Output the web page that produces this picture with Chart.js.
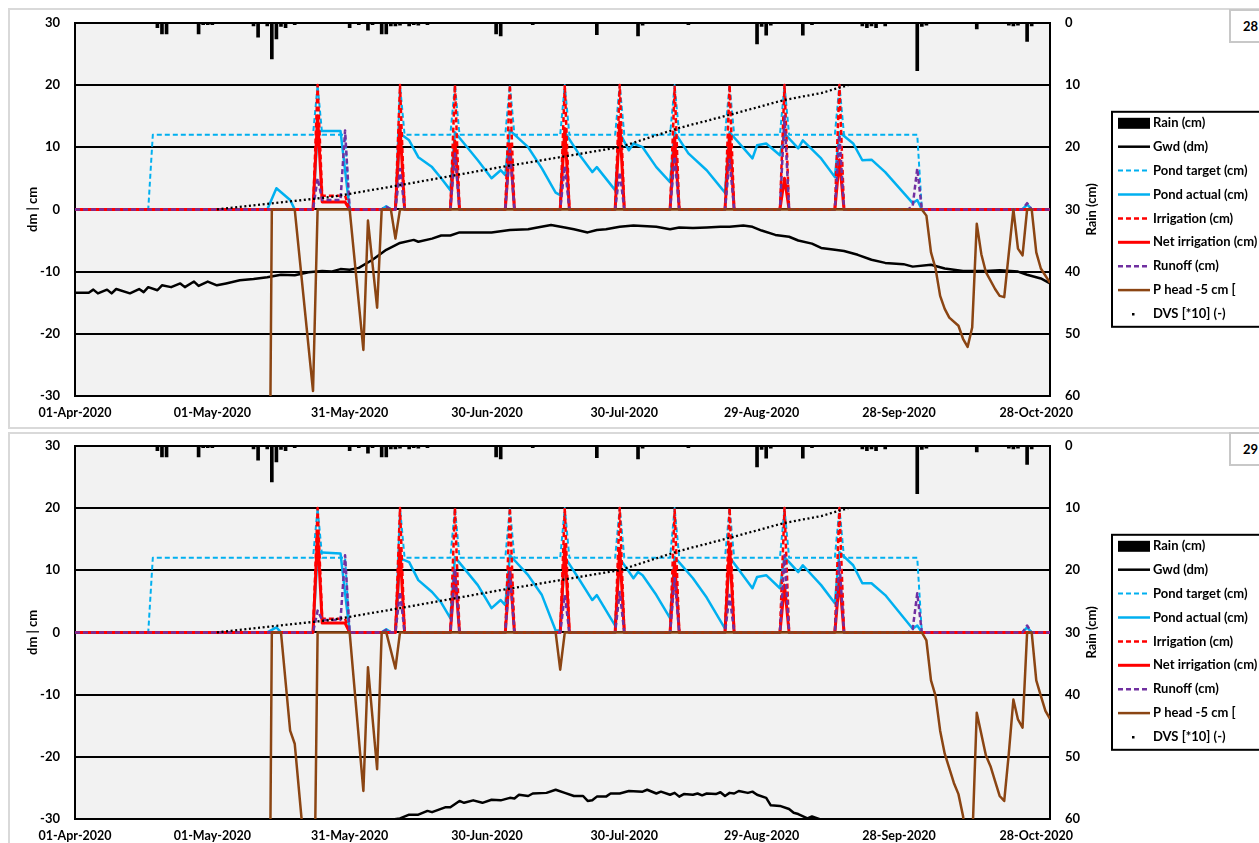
<!DOCTYPE html>
<html>
<head>
<meta charset="utf-8">
<script src="https://cdn.jsdelivr.net/npm/chart.js@4.4.1/dist/chart.umd.min.js"></script>
<style>
  body { margin: 0; width: 1259px; height: 843px; overflow: hidden; background: #fff; position: relative; font-family: Lato, sans-serif; }
  .frame { position: absolute; left: 8px; width: 1270px; border: 2px solid #d9d9d9; box-sizing: border-box; }
  #frame1 { top: 8px; height: 421px; }
  #frame2 { top: 432px; height: 430px; }
  canvas { position: absolute; left: 0; }
  #c28 { top: 0; }
  #c29 { top: 423px; }
  .tag { position: absolute; left: 1229px; width: 45px; height: 34px; border: 2px solid #c8c8c8; box-sizing: border-box; background: #fff; font-weight: bold; font-size: 13px; padding: 7px 0 0 12px; }
</style>
</head>
<body>
<div class="frame" id="frame1"></div>
<div class="frame" id="frame2"></div>
<canvas id="c28" width="1259" height="428"></canvas>
<canvas id="c29" width="1259" height="428"></canvas>
<div class="tag" style="top:9px">28</div>
<div class="tag" style="top:432px">29</div>
<script>
// x axis = days since 01-Apr-2020
const tickDays = [0, 30, 60, 90, 120, 150, 180, 210]
const tickLabels = ['01-Apr-2020', '01-May-2020', '31-May-2020', '30-Jun-2020', '30-Jul-2020', '29-Aug-2020', '28-Sep-2020', '28-Oct-2020']

// shared by both runs
const rainDays = [18,19,20,27,28,29,30,39,40,42,43,44,45,46,48,60,62,64,65,67,68,69,70,71,73,74,75,77,92,93,100,114,123,124,134,149,150,151,152,159,161,172,173,174,175,177,184,185,186,197,204,205,206,208,209]
const rainCm = [0.8,1.8,1.8,1.8,0.3,0.3,0.3,0.5,2.3,0.5,5.8,2.6,0.6,0.8,0.3,0.8,0.3,1.2,0.3,1.8,1.8,0.5,0.5,0.4,0.5,0.3,0.4,0.3,1.8,2.1,0.3,1.9,2.1,0.4,0.3,3.4,0.6,2.0,0.4,2.0,0.3,0.5,0.8,0.5,0.8,0.5,7.7,0.6,0.4,1.0,0.4,0.5,0.4,3.0,0.5]

const dvs = [[31,0],[56,2],[71,3.9],[93,6.8],[119,10],[132,13.1],[143,15.2],[155,17.6],[163,18.7],[169,20]]

const pondTarget = [[0,0],[16,0],[17,12],[52,12],[53,20],[54,12],[59,12],[60,0],[70,0],[71,20],[72,12],[82,12],[83,20],[84,12],[94,12],[95,20],[96,12],[106,12],[107,20],[108,12],[118,12],[119,20],[120,12],[130,12],[131,20],[132,12],[142,12],[143,20],[144,12],[154,12],[155,20],[156,12],[166,12],[167,20],[168,12],[184,12],[185,0],[213,0]]

const irrigation = [[0,0],[52,0],[53,20],[54,2.2],[59,2.2],[60,0],[70,0],[71,20],[72,0],[82,0],[83,20],[84,0],[94,0],[95,20],[96,0],[106,0],[107,20],[108,0],[118,0],[119,20],[120,0],[130,0],[131,19.7],[132,0],[142,0],[143,20],[144,0],[154,0],[155,20],[156,0],[166,0],[167,20],[168,0],[213,0]]

// run 28
const gwd28 = [[0,-13.4],[3,-13.4],[4,-12.9],[5,-13.5],[7,-12.9],[8,-13.5],[9,-12.8],[12,-13.5],[14,-12.8],[15,-13.3],[16,-12.5],[18,-13],[19,-12.2],[21,-12.5],[23,-11.9],[24,-12.5],[26,-11.6],[27,-12.3],[29,-11.6],[31,-12.2],[33,-11.9],[36,-11.4],[39,-11.2],[42,-10.9],[45,-10.5],[48,-10.6],[51,-10.1],[54,-9.9],[56,-10],[58,-9.6],[60,-9.7],[62,-9.4],[65,-8.1],[68,-6.5],[71,-5.4],[74,-4.9],[75,-5.2],[78,-4.7],[80,-4.2],[82,-4.2],[84,-3.7],[88,-3.7],[91,-3.7],[95,-3.3],[99,-3.2],[101,-2.9],[104,-2.5],[107,-2.9],[109,-3.2],[112,-3.7],[114,-3.3],[116,-3.2],[119,-2.8],[122,-2.6],[127,-2.8],[130,-3.2],[132,-2.9],[135,-3],[138,-2.9],[141,-2.8],[143,-2.8],[146,-2.6],[148,-2.8],[150,-3.4],[153,-4.1],[156,-4.4],[158,-5],[161,-5.5],[163,-6.2],[166,-6.5],[168,-6.7],[171,-7.3],[174,-8.1],[177,-8.6],[181,-8.8],[183,-9.2],[187,-8.9],[190,-9.5],[194,-9.9],[199,-9.9],[202,-9.8],[206,-10],[208,-10.5],[211,-11.1],[213,-11.9]]
const pondActual28 = [[0,0],[42,0],[44,3.4],[47,1.5],[48,0],[52,0],[53,12.6],[58,12.6],[60,0],[67,0],[68,0.5],[69,0],[70,0],[71,12.2],[73,11.1],[75,8.4],[78,6.8],[80,5],[82,3.1],[83,12.4],[88,7.9],[91,5],[93,6.3],[94,5.5],[95,12.7],[99,10],[102,6.6],[105,2.7],[106,2.3],[107,12.4],[110,9],[113,6],[114,6.8],[118,3.1],[119,12.3],[121,9.5],[122,10.6],[124,10],[127,6.8],[130,4.4],[131,12.4],[134,9],[138,6.3],[142,2.7],[143,12.4],[148,8.2],[149,10.3],[151,10.6],[154,8.7],[155,12.2],[158,9.8],[159,11.1],[163,8.2],[166,5.2],[167,12.4],[170,10.6],[172,7.9],[174,8],[177,6],[183,1],[184,1.5],[185,0],[207,0],[208,0.8],[209,0],[213,0]]
const netIrrigation28 = [[0,0],[52,0],[53,15],[54,1.2],[59,1.2],[60,0],[70,0],[71,13.5],[72,0],[82,0],[83,11],[84,0],[94,0],[95,10.5],[96,0],[106,0],[107,13],[108,0],[118,0],[119,14],[120,0],[130,0],[131,11.5],[132,0],[142,0],[143,12],[144,0],[154,0],[155,5],[156,0],[166,0],[167,8],[168,0],[213,0]]
const runoff28 = [[0,0],[52,0],[53,5],[54,1.5],[58,1.5],[59,12.7],[60,0],[67,0],[68,0.4],[69,0],[70,0],[71,6.5],[72,0],[82,0],[83,9],[84,0],[94,0],[95,9.5],[96,0],[106,0],[107,7],[108,0],[118,0],[119,6],[120,0],[130,0],[131,8.5],[132,0],[142,0],[143,8],[144,0],[154,0],[155,15],[156,0],[166,0],[167,12],[168,0],[182,0],[183,0.5],[184,6.6],[185,0],[207,0],[208,1],[209,0],[213,0]]
const pHead28 = [[42,-100],[43,0],[48,0],[52,-29.2],[53,0],[60,0],[63,-22.6],[64,-1.8],[66,-15.8],[67,0],[69,0],[70,-4.7],[71,0],[185,0],[186,-1],[187,-6.9],[188,-9.5],[189,-13.9],[190,-16],[191,-17.4],[193,-18.7],[194,-20.8],[195,-22.1],[196,-19],[197,-2.3],[198,-7.2],[199,-10.1],[201,-12.8],[202,-13.9],[203,-14.1],[205,0],[206,-6.3],[207,-7.4],[208,0],[209,0],[210,-6.9],[211,-9.5],[213,-11.8]]

// run 29
const gwd29 = [[0,-36],[40,-33],[66,-30.5],[69,-30.1],[71,-29.9],[73,-29.3],[75,-29.3],[77,-28.7],[78,-28.9],[81,-28.1],[82,-28.1],[84,-27.1],[85,-27.4],[87,-27],[89,-27.4],[91,-26.9],[93,-27],[95,-26.6],[96,-26.7],[97,-26.1],[99,-26.3],[100,-25.9],[103,-25.8],[105,-25.3],[107,-25.8],[109,-26.3],[111,-26.3],[112,-27.1],[113,-27],[114,-26.4],[116,-26.4],[117,-25.9],[119,-25.9],[121,-25.5],[124,-25.6],[125,-25.3],[127,-25.9],[128,-25.6],[130,-26.1],[131,-25.8],[132,-26.4],[133,-26],[135,-26.1],[136,-25.9],[137,-26.2],[138,-25.9],[140,-26],[141,-25.7],[142,-26.3],[143,-25.8],[144,-25.9],[145,-25.5],[147,-25.8],[148,-25.6],[149,-26.1],[151,-26.6],[152,-27.8],[154,-27.9],[156,-28.4],[157,-29],[158,-29.2],[160,-29.9],[161,-29.6],[163,-30.1],[170,-31.5],[213,-36]]
const pondActual29 = [[0,0],[42,0],[44,0.8],[45,0],[52,0],[53,12.9],[58,12.7],[60,0],[67,0],[68,0.5],[69,0],[70,0],[71,11.9],[73,11.3],[75,8.4],[78,6.5],[80,4.8],[82,2.3],[83,12.1],[88,7.6],[91,3.9],[93,5.2],[94,4.4],[95,12.4],[99,9.2],[102,6],[105,0.3],[106,0.3],[107,12.1],[110,8.7],[113,5.2],[114,6],[118,1.1],[119,11.9],[122,8.7],[123,9.7],[124,9.2],[127,6],[130,2.3],[131,12.1],[135,8.7],[138,5.6],[142,0.6],[143,12.1],[148,7.1],[149,8.9],[151,9.2],[154,7.1],[155,12.1],[158,9.7],[159,10.8],[163,7.6],[166,4.7],[167,12.9],[170,10.8],[172,7.9],[174,7.9],[177,6],[183,0.6],[184,1.1],[185,0],[207,0],[208,0.8],[209,0],[213,0]]
const netIrrigation29 = [[0,0],[52,0],[53,16],[54,1.5],[59,1.5],[60,0],[70,0],[71,13.5],[72,0],[82,0],[83,9.7],[84,0],[94,0],[95,10.3],[96,0],[106,0],[107,14],[108,0],[118,0],[119,13.5],[120,0],[130,0],[131,11.3],[132,0],[142,0],[143,14],[144,0],[154,0],[155,7.6],[156,0],[166,0],[167,8.7],[168,0],[213,0]]
const runoff29 = [[0,0],[52,0],[53,3.5],[54,2],[58,2],[59,12.4],[60,0],[67,0],[68,0.4],[69,0],[70,0],[71,6.5],[72,0],[82,0],[83,10.3],[84,0],[94,0],[95,9.7],[96,0],[106,0],[107,6],[108,0],[118,0],[119,6.5],[120,0],[130,0],[131,8.7],[132,0],[142,0],[143,6],[144,0],[154,0],[155,12.4],[156,0],[166,0],[167,11.3],[168,0],[182,0],[183,0.5],[184,6.3],[185,0],[207,0],[208,1.1],[209,0],[213,0]]
const pHead29 = [[42,-100],[43,0],[45,0],[47,-15.8],[48,-17.9],[50,-34],[52,-60],[53,0],[60,0],[63,-25.5],[64,-5.6],[66,-22],[67,0],[68,0],[70,-5.8],[71,0],[105,0],[106,-6],[107,0],[185,0],[186,-1.3],[187,-7.7],[188,-10.2],[189,-15.8],[190,-19.5],[192,-24.2],[193,-26],[194,-29.5],[195,-36],[196,-34],[197,-12.9],[199,-19.8],[200,-21.5],[201,-23.9],[202,-26.3],[203,-27.1],[204,-19.5],[205,-10.8],[206,-14],[207,-15.3],[208,0],[209,0],[210,-7.7],[211,-10.2],[212,-12.6],[213,-13.9]]


Chart.defaults.font.family = 'Lato'
Chart.defaults.font.size = 13
Chart.defaults.font.weight = 'bold'
Chart.defaults.color = '#000'

const plotBg = {
    id: 'plotBg',
    beforeDraw(chart) {
        const {ctx, chartArea} = chart
        ctx.save()
        ctx.fillStyle = '#f2f2f2'
        ctx.fillRect(chartArea.left, chartArea.top, chartArea.width, chartArea.height)
        ctx.restore()
    }
}

// boxed legend on the right + the "Rain (cm)" axis title (reads bottom to top)
const legendBox = {
    id: 'legendBox',
    afterDraw(chart) {
        const {ctx, chartArea} = chart
        const top = chartArea.top + 89
        ctx.save()
        ctx.fillStyle = '#fff'
        ctx.fillRect(1112, top, 160, 215)
        ctx.lineWidth = 2
        ctx.strokeStyle = '#000'
        ctx.strokeRect(1112, top, 160, 215)
        ctx.font = 'bold 13px Lato'
        ctx.textBaseline = 'middle'
        chart.data.datasets.forEach((ds, i) => {
            const y = top + 11 + i * 23.9
            if (ds.type === 'bar') {
                ctx.fillStyle = '#000'
                ctx.fillRect(1118, y - 5, 32, 11)
            } else if (ds.legendDot) {
                ctx.fillStyle = '#000'
                ctx.fillRect(1132, y - 1, 2.5, 2.5)
            } else {
                ctx.beginPath()
                ctx.setLineDash(ds.borderDash || [])
                ctx.strokeStyle = ds.borderColor
                ctx.lineWidth = ds.borderWidth
                ctx.moveTo(1118, y)
                ctx.lineTo(1150, y)
                ctx.stroke()
                ctx.setLineDash([])
            }
            ctx.fillStyle = '#000'
            ctx.fillText(ds.label, 1153, y)
        })
        ctx.translate(1092, (chartArea.top + chartArea.bottom) / 2)
        ctx.rotate(-Math.PI / 2)
        ctx.textAlign = 'center'
        ctx.fillText('Rain (cm)', 0, 0)
        ctx.restore()
    }
}

function makeChart(id, gwd, pondActual, netIrrigation, runoff, pHead) {
    const ctx = document.getElementById(id).getContext('2d')

    const datasets = [
        { type: 'bar', label: 'Rain (cm)', data: rainDays.map((d, i) => ({x: d, y: rainCm[i]})),
          yAxisID: 'y2', backgroundColor: '#000', barThickness: 3, order: 9 },
        { label: 'Gwd (dm)', data: gwd, borderColor: '#000', borderWidth: 2.5, order: 8 },
        { label: 'Pond target (cm)', data: pondTarget, borderColor: '#00b0f0', borderWidth: 2, borderDash: [5, 3], order: 7 },
        { label: 'Pond actual (cm)', data: pondActual, borderColor: '#00b0f0', borderWidth: 2.5, order: 6 },
        { label: 'Irrigation (cm)', data: irrigation, borderColor: '#ff0000', borderWidth: 2.5, borderDash: [5, 3], order: 5 },
        { label: 'Net irrigation (cm)', data: netIrrigation, borderColor: '#ff0000', borderWidth: 3, order: 4 },
        { label: 'Runoff (cm)', data: runoff, borderColor: '#7030a0', borderWidth: 2.5, borderDash: [5, 3], order: 3 },
        { label: 'P head -5 cm [', data: pHead, borderColor: '#8b4513', borderWidth: 2.5, order: 2 },
        { label: 'DVS [*10] (-)', data: dvs, borderColor: '#000', borderWidth: 2.3, borderDash: [2, 2.6], legendDot: true, order: 1 }
    ]

    const config = {
        type: 'line',
        data: { datasets: datasets },
        options: {
            responsive: false,
            animation: false,
            devicePixelRatio: 1,
            layout: { padding: { top: 22, right: 159, bottom: 0, left: 0 } },
            plugins: { legend: { display: false }, tooltip: { enabled: false } },
            elements: { point: { radius: 0 }, line: { tension: 0, borderJoinStyle: 'round' } },
            scales: {
                x: {
                    type: 'linear', min: 0, max: 213, offset: false,
                    grid: { display: false, drawTicks: false },
                    border: { display: true, color: '#000', width: 2 },
                    afterBuildTicks: s => { s.ticks = tickDays.map(v => ({ value: v })) },
                    ticks: { autoSkip: false, maxRotation: 0, padding: 9, font: { size: 12.5 }, callback: (v, i) => tickLabels[i] },
                    afterFit: s => { s.height = 32 }
                },
                y: {
                    position: 'left', min: -30, max: 30,
                    ticks: { stepSize: 10, padding: 15 },
                    grid: { color: '#000', lineWidth: 2, drawTicks: false },
                    border: { color: '#000', width: 2 },
                    title: { display: true, text: 'dm | cm', padding: { top: 25 } },
                    afterFit: s => { s.width = 75 }
                },
                y2: {
                    position: 'right', min: 0, max: 60, reverse: true,
                    ticks: { stepSize: 10, padding: 15 },
                    grid: { display: false, drawTicks: false },
                    border: { color: '#000', width: 2 },
                    afterFit: s => { s.width = 50 }
                }
            }
        },
        plugins: [plotBg, legendBox]
    }
    return new Chart(ctx, config)
}

makeChart('c28', gwd28, pondActual28, netIrrigation28, runoff28, pHead28)
makeChart('c29', gwd29, pondActual29, netIrrigation29, runoff29, pHead29)
</script>
</body>
</html>
